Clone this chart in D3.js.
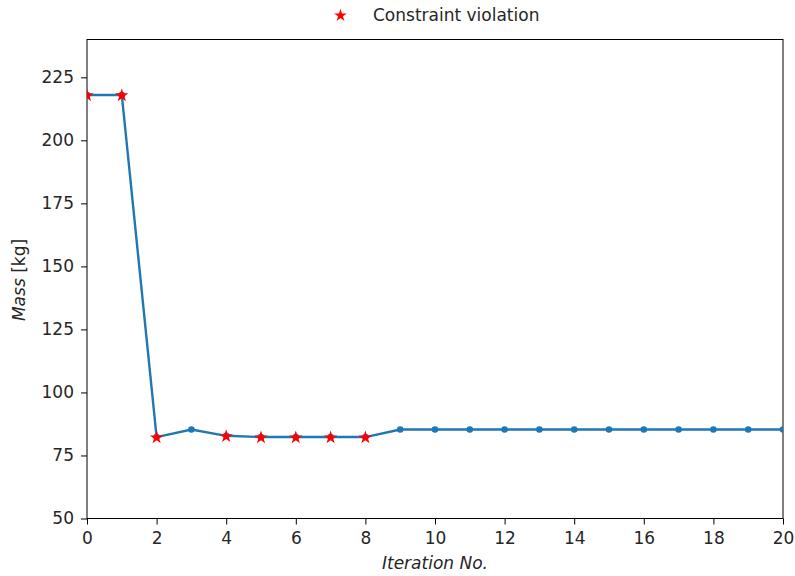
<!DOCTYPE html>
<html>
<head>
<meta charset="utf-8">
<script src="https://cdn.jsdelivr.net/npm/d3@7"></script>
<style>
body { margin: 0; background: #fff; }
</style>
</head>
<body>
<div id="container"></div>
<script>
var iterations = [0, 1, 2, 3, 4, 5, 6, 7, 8, 9, 10, 11, 12, 13, 14, 15, 16, 17, 18, 19, 20];
var mass = [218, 218, 82.3, 85.3, 82.8, 82.3, 82.3, 82.3, 82.3, 85.3, 85.3, 85.3, 85.3, 85.3, 85.3, 85.3, 85.3, 85.3, 85.3, 85.3, 85.3];
var violations = [0, 1, 2, 4, 5, 6, 7, 8];
var xTicks = [0, 2, 4, 6, 8, 10, 12, 14, 16, 18, 20];
var yTicks = [50, 75, 100, 125, 150, 175, 200, 225];

var width = 795, height = 576;
var plotLeft = 87, plotRight = 783, plotTop = 39.5, plotBottom = 518.5;
var font = '"DejaVu Sans", sans-serif', fontSize = '17px', textColor = '#262626';

var data = iterations.map(function(d, i){ return {x: d, y: mass[i]}; });

var xScale = d3.scaleLinear().domain([0, 20]).range([plotLeft, plotRight]);
var yScale = d3.scaleLinear().domain([50, 240]).range([plotBottom, plotTop]);

var translate = function(x, y) {
	return "translate(" + x + "," + y + ")";
};

function styleAxis(g) {
	g.select('.domain').remove();
	g.selectAll('.tick line').attr('stroke', '#000').attr('stroke-width', 1);
	g.selectAll('.tick text')
		.attr('font-family', font)
		.attr('font-size', fontSize)
		.attr('fill', textColor);
}

function visualize() {
	var svg = d3.select('#container').append('svg')
		.attr('width', width)
		.attr('height', height)
		.style('font-family', font);

	svg.append('clipPath').attr('id', 'clip')
		.append('rect')
		.attr('x', plotLeft).attr('y', plotTop)
		.attr('width', plotRight - plotLeft).attr('height', plotBottom - plotTop);

	var xAxis = d3.axisBottom(xScale).tickValues(xTicks).tickSize(6).tickPadding(7);
	svg.append('g').attr('transform', translate(0, plotBottom)).call(xAxis).call(styleAxis);
	var yAxis = d3.axisLeft(yScale).tickValues(yTicks).tickSize(6).tickPadding(7);
	svg.append('g').attr('transform', translate(plotLeft, 0)).call(yAxis).call(styleAxis);

	svg.append('rect')
		.attr('x', plotLeft).attr('y', plotTop)
		.attr('width', plotRight - plotLeft).attr('height', plotBottom - plotTop)
		.attr('fill', 'none').attr('stroke', '#000').attr('stroke-width', 1);

	var plot = svg.append('g').attr('clip-path', 'url(#clip)');

	var line = d3.line()
		.x(function(d){ return xScale(d.x); })
		.y(function(d){ return yScale(d.y); });

	plot.append('path')
		.attr('d', line(data))
		.attr('fill', 'none')
		.attr('stroke', '#1f77b4')
		.attr('stroke-width', 2.4);

	plot.selectAll('circle').data(data).enter()
		.append('circle')
		.attr('cx', function(d){ return xScale(d.x); })
		.attr('cy', function(d){ return yScale(d.y); })
		.attr('r', 3.3)
		.attr('fill', '#1f77b4');

	var star = d3.symbol().type(d3.symbolStar).size(56);
	plot.selectAll('.star').data(violations).enter()
		.append('path')
		.attr('class', 'star')
		.attr('d', star)
		.attr('transform', function(i){ return translate(xScale(data[i].x), yScale(data[i].y) + 0.5); })
		.attr('fill', 'red');

	// legend
	svg.append('path')
		.attr('d', d3.symbol().type(d3.symbolStar).size(50))
		.attr('transform', translate(340.5, 15.5))
		.attr('fill', 'red');
	svg.append('text')
		.attr('x', 373).attr('y', 21)
		.attr('font-size', fontSize).attr('fill', textColor)
		.text('Constraint violation');

	// axis labels
	svg.append('text')
		.attr('x', 435).attr('y', 569)
		.attr('text-anchor', 'middle')
		.attr('font-size', fontSize).attr('font-style', 'italic').attr('fill', textColor)
		.text('Iteration No.');
	var yl = svg.append('text')
		.attr('transform', translate(25, 280) + ' rotate(-90)')
		.attr('text-anchor', 'middle')
		.attr('font-size', fontSize).attr('fill', textColor);
	yl.append('tspan').attr('font-style', 'italic').text('Mass');
	yl.append('tspan').text(' [kg]');
}

window.onload = visualize;
</script>
</body>
</html>
